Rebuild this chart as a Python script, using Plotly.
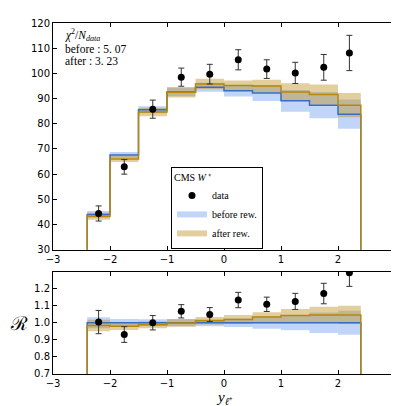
import plotly.graph_objects as go

# binning in lepton rapidity
bin_edges = [-2.4, -2.0, -1.5, -1.0, -0.5, 0.0, 0.5, 1.0, 1.5, 2.0, 2.4]
bin_centers = [-2.2, -1.75, -1.25, -0.75, -0.25, 0.25, 0.75, 1.25, 1.75, 2.2]

# top panel: cross section
data_vals = [44.4, 62.9, 85.8, 98.5, 99.7, 105.4, 101.7, 100.2, 102.4, 108.1]
data_err = [3.0, 2.9, 3.6, 3.6, 3.9, 4.0, 3.7, 4.2, 5.1, 7.0]
before_vals = [44.0, 67.6, 85.6, 92.6, 94.5, 93.1, 92.2, 89.1, 87.4, 83.8]
before_err = [1.4, 1.2, 1.4, 1.7, 1.8, 2.3, 3.2, 4.3, 5.2, 5.8]
after_vals = [43.3, 66.0, 84.7, 92.5, 95.8, 95.2, 95.0, 92.6, 91.6, 87.4]
after_err = [1.4, 1.2, 1.7, 2.1, 2.1, 2.0, 2.5, 3.5, 4.0, 4.8]

# bottom panel: ratio to "before"
ratio_data = [1.004, 0.931, 1.000, 1.067, 1.048, 1.133, 1.108, 1.125, 1.171, 1.293]
ratio_data_err = [0.068, 0.046, 0.042, 0.039, 0.041, 0.045, 0.042, 0.047, 0.060, 0.080]
ratio_before = [1.0, 1.0, 1.0, 1.0, 1.0, 1.0, 1.0, 1.0, 1.0, 1.0]
ratio_before_err = [0.032, 0.022, 0.020, 0.020, 0.020, 0.025, 0.035, 0.044, 0.060, 0.070]
ratio_after = [0.984, 0.979, 0.988, 0.999, 1.012, 1.019, 1.033, 1.042, 1.046, 1.046]
ratio_after_err = [0.034, 0.022, 0.020, 0.023, 0.022, 0.027, 0.029, 0.039, 0.048, 0.054]

x_ticks = [-3, -2, -1, 0, 1, 2, 3]
top_yticks = [30, 40, 50, 60, 70, 80, 90, 100, 110, 120]
bot_yticks = [0.7, 0.8, 0.9, 1.0, 1.1, 1.2]

chi2_lines = ["<i>χ</i><sup>2</sup>/<i>N</i><sub><i>data</i></sub>",
              "before : 5. 07", "after : 3. 23"]

BLUE_FILL = "rgba(100,149,237,0.4)"
GOLD_FILL = "rgba(184,134,11,0.4)"
BLUE_LINE = "#3a6cc0"
GOLD_LINE = "#b8860b"


def band_polygon(vals, errs):
    xs, ys = [], []
    for i, v in enumerate(vals):
        xs += [bin_edges[i], bin_edges[i + 1]]
        ys += [v + errs[i]] * 2
    for i in reversed(range(len(vals))):
        xs += [bin_edges[i + 1], bin_edges[i]]
        ys += [vals[i] - errs[i]] * 2
    return xs, ys


def step_line(vals, floor):
    xs = [bin_edges[0]]
    ys = [floor]
    for i, v in enumerate(vals):
        xs += [bin_edges[i], bin_edges[i + 1]]
        ys += [v, v]
    xs.append(bin_edges[-1])
    ys.append(floor)
    return xs, ys


fig = go.Figure()


def add_panel(xa, ya, dvals, derrs, bvals, berrs, avals, aerrs, floor, legend):
    bx, by = band_polygon(bvals, berrs)
    fig.add_trace(go.Scatter(x=bx, y=by, fill="toself", fillcolor=BLUE_FILL, mode="none",
                             name="before rew.", showlegend=legend, legendrank=2,
                             xaxis=xa, yaxis=ya, hoverinfo="skip"))
    gx, gy = band_polygon(avals, aerrs)
    fig.add_trace(go.Scatter(x=gx, y=gy, fill="toself", fillcolor=GOLD_FILL, mode="none",
                             name="after rew.", showlegend=legend, legendrank=3,
                             xaxis=xa, yaxis=ya, hoverinfo="skip"))
    lx, ly = step_line(bvals, floor)
    fig.add_trace(go.Scatter(x=lx, y=ly, mode="lines", line=dict(color=BLUE_LINE, width=1.5),
                             showlegend=False, xaxis=xa, yaxis=ya))
    lx, ly = step_line(avals, floor)
    fig.add_trace(go.Scatter(x=lx, y=ly, mode="lines", line=dict(color=GOLD_LINE, width=1.5),
                             showlegend=False, xaxis=xa, yaxis=ya))
    fig.add_trace(go.Scatter(x=bin_centers, y=dvals, mode="markers", name="data",
                             marker=dict(color="black", size=7),
                             error_y=dict(type="data", array=derrs, color="#333333",
                                          thickness=1, width=3),
                             showlegend=legend, legendrank=1, xaxis=xa, yaxis=ya))


add_panel("x", "y", data_vals, data_err, before_vals, before_err, after_vals, after_err, 0, True)
add_panel("x2", "y2", ratio_data, ratio_data_err, ratio_before, ratio_before_err,
          ratio_after, ratio_after_err, 0.5, False)

axis_style = dict(showline=True, linecolor="black", linewidth=1, mirror="ticks",
                  ticks="inside", ticklen=4, tickcolor="black", showgrid=False, zeroline=False,
                  tickfont=dict(family="DejaVu Sans", size=10, color="black"))

fig.update_layout(
    width=399, height=406,
    margin=dict(l=45, r=9, t=10, b=40),
    paper_bgcolor="white", plot_bgcolor="white",
    xaxis=dict(domain=[0, 1], range=[-3, 3], tickvals=x_ticks, anchor="y", **axis_style),
    yaxis=dict(domain=[0.354, 1], range=[30, 120], tickvals=top_yticks, anchor="x", **axis_style),
    xaxis2=dict(domain=[0, 1], range=[-3, 3], tickvals=x_ticks, anchor="y2", **axis_style),
    yaxis2=dict(domain=[0, 0.292], range=[0.7, 1.3], tickvals=bot_yticks, tickformat=".1f",
                anchor="x2", **axis_style),
    legend=dict(x=0.345, y=0.59, xanchor="left", yanchor="top",
                bgcolor="white", bordercolor="black", borderwidth=1,
                title=dict(text="CMS <i>W</i> ⁺", side="top",
                           font=dict(family="Liberation Serif", size=10, color="black")),
                font=dict(family="Liberation Serif", size=10, color="black"),
                tracegroupgap=0, itemwidth=30),
    showlegend=True,
)

# chi2 box, one annotation per line so the spacing stays tight
chi2_y = [22, 36, 48.5]
for line, ypx in zip(chi2_lines, chi2_y):
    fig.add_annotation(text=line, xref="paper", yref="paper", x=0.028, y=(366 - ypx) / 356,
                       xanchor="left", yanchor="middle", showarrow=False, align="left",
                       font=dict(family="Liberation Serif", size=11.5, color="black"))

fig.add_annotation(text="ℛ", xref="paper", yref="paper", x=-0.1, y=0.146,
                   xanchor="center", yanchor="middle", showarrow=False,
                   font=dict(family="DejaVu Serif", size=19, color="black"))
fig.add_annotation(text="<i>y</i><sub><i>ℓ</i>⁺</sub>", xref="paper", yref="paper", x=0.5, y=-0.068,
                   xanchor="center", yanchor="middle", showarrow=False,
                   font=dict(family="Liberation Serif", size=15, color="black"))

fig.write_html("out.html")
